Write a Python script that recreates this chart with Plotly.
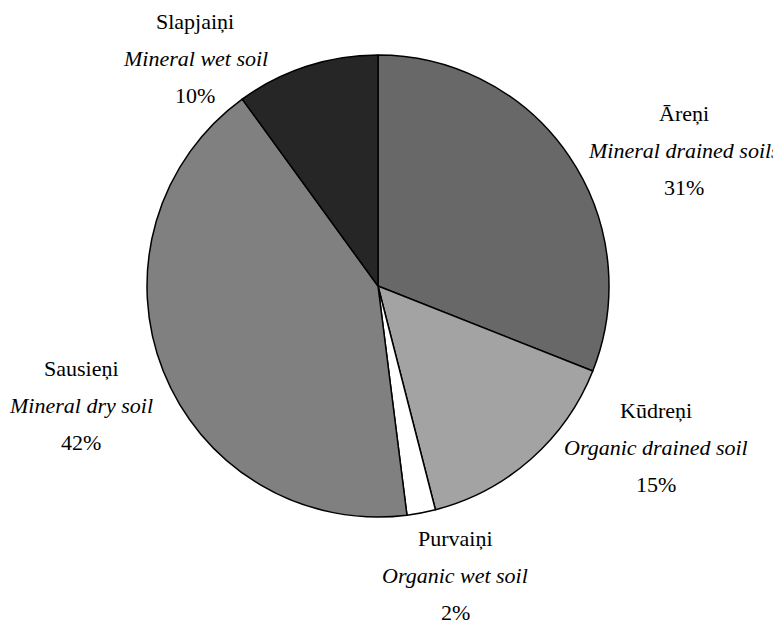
import plotly.graph_objects as go

names = ["Āreņi", "Kūdreņi", "Purvaiņi", "Sausieņi", "Slapjaiņi"]
soil_types = ["Mineral drained soils", "Organic drained soil", "Organic wet soil",
              "Mineral dry soil", "Mineral wet soil"]
shares = [31, 15, 2, 42, 10]
colors = ["#686868", "#a3a3a3", "#ffffff", "#808080", "#262626"]

# label anchor positions (pixel centres of the name line, page coords)
label_x = [684, 656, 455, 81, 195]
label_y = [113, 410, 538, 368, 21]

OFF = 8  # default body margin of the html page
W, H = 781 - OFF, 621 - OFF


def px(x):
    return (x - OFF) / W


def py(y):
    return 1 - (y - OFF) / H


fig = go.Figure(go.Pie(
    labels=names,
    values=shares,
    sort=False,
    direction="clockwise",
    rotation=0,
    marker=dict(colors=colors, line=dict(color="#000000", width=1.5)),
    textinfo="none",
    showlegend=False,
    domain=dict(x=[px(146), px(610)], y=[py(517), py(55)]),
))

font = dict(family="Liberation Serif, Times New Roman, serif", size=22, color="#000000")
step = 37.3
for n, t, s, x, y in zip(names, soil_types, shares, label_x, label_y):
    for i, txt in enumerate([n, f"<i>{t}</i>", f"{s}%"]):
        fig.add_annotation(
            x=px(x), y=py(y + i * step), xref="paper", yref="paper",
            text=txt, showarrow=False, font=font, xanchor="center", yanchor="middle",
        )

fig.update_layout(
    width=W, height=H,
    margin=dict(l=0, r=0, t=0, b=0),
    paper_bgcolor="white", plot_bgcolor="white",
)

fig.write_html("out.html")
